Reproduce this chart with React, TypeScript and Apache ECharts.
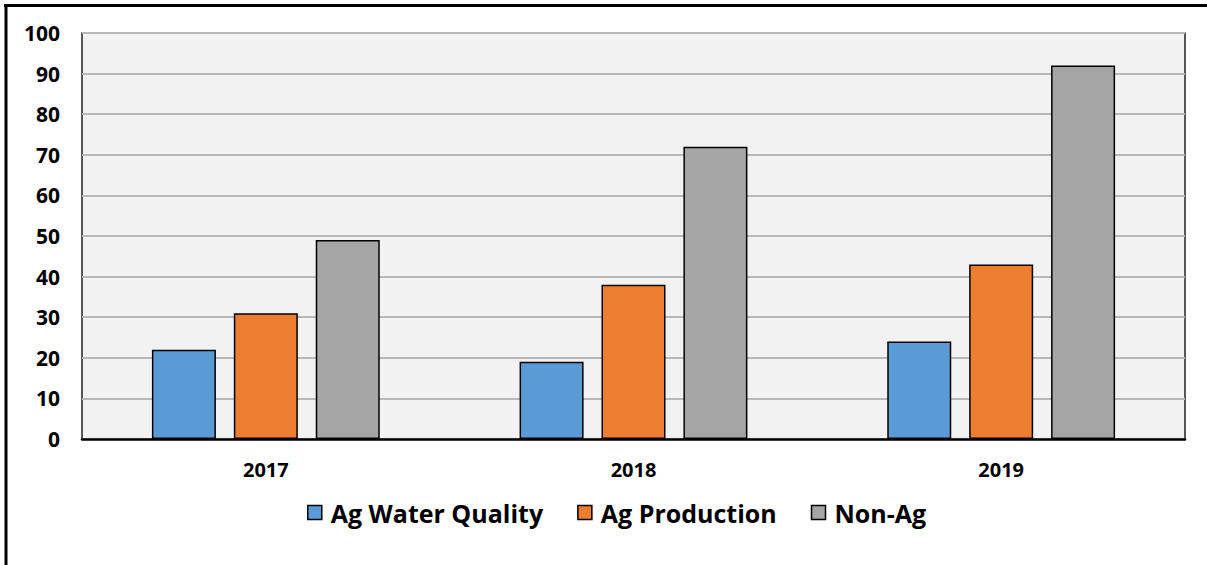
import React, { useEffect, useRef } from "react";
import * as echarts from "echarts";

const categories = ["2017", "2018", "2019"];
const seriesNames = ["Ag Water Quality", "Ag Production", "Non-Ag"];
const agWaterQuality = [22, 19, 24];
const agProduction = [31, 38, 43];
const nonAg = [49, 72, 92];
const colors = ["#5b9bd5", "#ed7d31", "#a5a5a5"];

export default function App() {
  const ref = useRef<HTMLDivElement>(null);
  useEffect(() => {
    if (!ref.current) return;
    const chart = echarts.init(ref.current, undefined, { renderer: "svg" });
    const font = "'Open Sans', Lato, sans-serif";
    const values = [agWaterQuality, agProduction, nonAg];
    chart.setOption({
      animation: false,
      backgroundColor: "#ffffff",
      textStyle: { fontFamily: font },
      grid: {
        left: 82,
        right: 22,
        top: 33,
        bottom: 126,
        show: true,
        backgroundColor: "#f2f2f2",
        borderColor: "#222222",
        borderWidth: 1.5,
      },
      legend: {
        data: seriesNames,
        top: 495,
        left: 302,
        itemWidth: 14,
        itemHeight: 14,
        itemGap: 34,
        icon: "rect",
        textStyle: { fontSize: 25, fontWeight: "bold", color: "#000", fontFamily: font, padding: [0, 0, 0, 4] },
        itemStyle: { borderColor: "#000", borderWidth: 1.5 },
      },
      xAxis: {
        type: "category",
        data: categories,
        axisLine: { lineStyle: { color: "#000", width: 2.5 } },
        axisTick: { show: false },
        axisLabel: { fontSize: 20, fontWeight: "bold", color: "#000", margin: 20, fontFamily: font },
      },
      yAxis: {
        type: "value",
        min: 0,
        max: 100,
        interval: 10,
        axisLine: { show: false },
        axisTick: { show: false },
        axisLabel: { fontSize: 21, fontWeight: "bold", color: "#000", margin: 22, fontFamily: font },
        splitLine: { lineStyle: { color: "#b8b8b8", width: 2 } },
      },
      series: seriesNames.map((name, i) => ({
        name,
        type: "bar",
        data: values[i],
        barWidth: 64,
        barGap: "28%",
        itemStyle: { color: colors[i], borderColor: "#000", borderWidth: 1.5 },
      })),
      graphic: [
        { type: "line", shape: { x1: 6, y1: 4, x2: 6, y2: 565 }, style: { stroke: "#000", lineWidth: 3 } },
        { type: "line", shape: { x1: 4, y1: 5.5, x2: 1207, y2: 5.5 }, style: { stroke: "#000", lineWidth: 3 } },
      ],
    });
    return () => chart.dispose();
  }, []);
  return (
    <div
      ref={ref}
      style={{ position: "fixed", left: 0, top: 0, width: 1207, height: 565 }}
    />
  );
}
